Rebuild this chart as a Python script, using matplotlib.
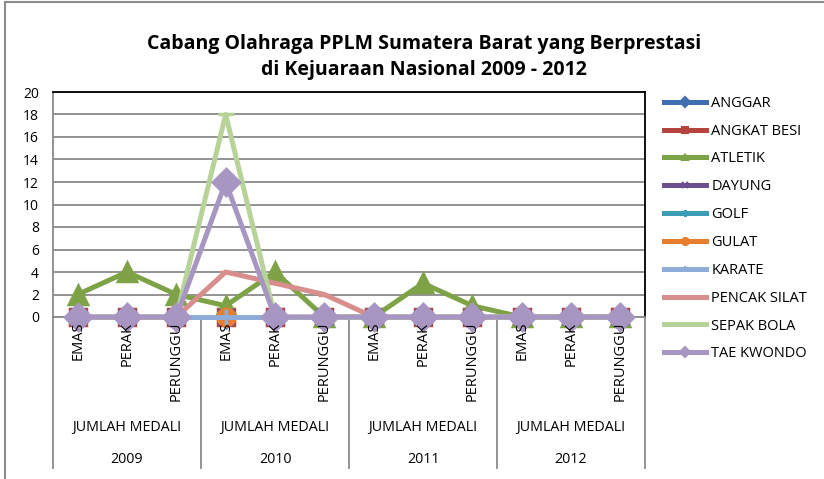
import matplotlib.pyplot as plt
from matplotlib.lines import Line2D
import matplotlib.transforms as mtransforms

plt.rcParams['font.family'] = ['Open Sans', 'DejaVu Sans']

years = ['2009', '2010', '2011', '2012']
medals = ['EMAS', 'PERAK', 'PERUNGGU']
group_label = 'JUMLAH MEDALI'

# values per point: 2009 E/P/P, 2010 E/P/P, 2011 E/P/P, 2012 E/P/P
anggar = [0, 0, 0, 0, 0, 0, 0, 0, 0, 0, 0, 0]
angkat_besi = [0, 0, 0, 0, 0, 0, 0, 0, 0, 0, 0, 0]
atletik = [2, 4, 2, 1, 4, 0, 0, 3, 1, 0, 0, 0]
dayung = [0, 0, 0, 0, 0, 0, 0, 0, 0, 0, 0, 0]
golf = [0, 0, 0, 0, 0, 0, 0, 0, 0, 0, 0, 0]
gulat = [0, 0, 0, 0, 0, 0, 0, 0, 0, 0, 0, 0]
karate = [0, 0, 0, 0, 0, 0, 0, 0, 0, 0, 0, 0]
pencak_silat = [0, 0, 0, 4, 3, 2, 0, 0, 0, 0, 0, 0]
sepak_bola = [0, 0, 0, 18, 0, 0, 0, 0, 0, 0, 0, 0]
tae_kwondo = [0, 0, 0, 12, 0, 0, 0, 0, 0, 0, 0, 0]

series = [
    ('ANGGAR', anggar, '#3f6fb0', 'D', 10),
    ('ANGKAT BESI', angkat_besi, '#b5443f', 's', 12),
    ('ATLETIK', atletik, '#7ea346', '^', 13),
    ('DAYUNG', dayung, '#6b4f91', 'x', 12),
    ('GOLF', golf, '#3a9db5', (6, 2, 0), 13),
    ('GULAT', gulat, '#e67e2e', 'o', 12),
    ('KARATE', karate, '#8fabd8', '+', 12),
    ('PENCAK SILAT', pencak_silat, '#d88e8c', '_', 8),
    ('SEPAK BOLA', sepak_bola, '#b8d398', '_', 12),
    ('TAE KWONDO', tae_kwondo, '#a896c2', 'D', 13),
]

fig = plt.figure(figsize=(8.24, 4.79), dpi=100)
ax = fig.add_axes([53/824, 1-317/479, (645-53)/824, (317-92)/479])

x = list(range(len(years) * len(medals)))
handles = []
for name, vals, col, mk, ms in series:
    ax.plot(x, vals, color=col, lw=3.6, marker=mk, ms=ms, mew=2.5,
            mfc=col, mec=col, clip_on=False, zorder=3)
    handles.append(Line2D([], [], color=col, lw=3.6, marker=mk, ms=5,
                          mew=1.5, mfc=col, mec=col, label=name))

ax.set_xlim(-0.5, len(x) - 0.5)
ax.set_ylim(0, 20)
ax.set_yticks(range(0, 21, 2))
ax.yaxis.grid(True, color='#8a8a8a', lw=1.3)
ax.set_axisbelow(True)
ax.set_xticks([])
ax.tick_params(axis='y', length=0, pad=10, labelsize=10)
for s in ['top', 'right']:
    ax.spines[s].set_color('black')
    ax.spines[s].set_linewidth(1.3)
for s in ['left', 'bottom']:
    ax.spines[s].set_color('#8a8a8a')
    ax.spines[s].set_linewidth(1.3)

trans = mtransforms.blended_transform_factory(ax.transData, ax.transAxes)
for i, xi in enumerate(x):
    ax.text(xi, -0.02, medals[i % 3], rotation=90, ha='center', va='top',
            fontsize=10.5, transform=trans)
for g, yr in enumerate(years):
    cx = g * 3 + 1
    ax.text(cx, -0.49, group_label, ha='center', va='center', fontsize=10.3,
            transform=trans)
    ax.text(cx, -0.635, yr, ha='center', va='center', fontsize=10.3,
            transform=trans)
for g in range(len(years) + 1):
    bx = g * 3 - 0.5
    ax.plot([bx, bx], [0, -0.672], color='#8a8a8a', lw=1.3,
            transform=trans, clip_on=False)

fig.text(424/824, 1-57/479,
         'Cabang Olahraga PPLM Sumatera Barat yang Berprestasi\n'
         'di Kejuaraan Nasional 2009 - 2012',
         ha='center', va='center', fontsize=14, fontweight='bold',
         linespacing=1.45)

fig.legend(handles=handles, loc='upper left',
           bbox_to_anchor=(658/824, 1-90/479), frameon=False,
           fontsize=10.5, handlelength=2.9, labelspacing=0.88,
           handletextpad=0.35, borderaxespad=0)

fig.add_artist(Line2D([5/824, 1], [1-2/479, 1-2/479], color='#8c8c8c',
                      lw=1.5, transform=fig.transFigure))
fig.add_artist(Line2D([5/824, 5/824], [0, 1-2/479], color='#8c8c8c',
                      lw=1.5, transform=fig.transFigure))

fig.savefig('out.png', dpi=100)
